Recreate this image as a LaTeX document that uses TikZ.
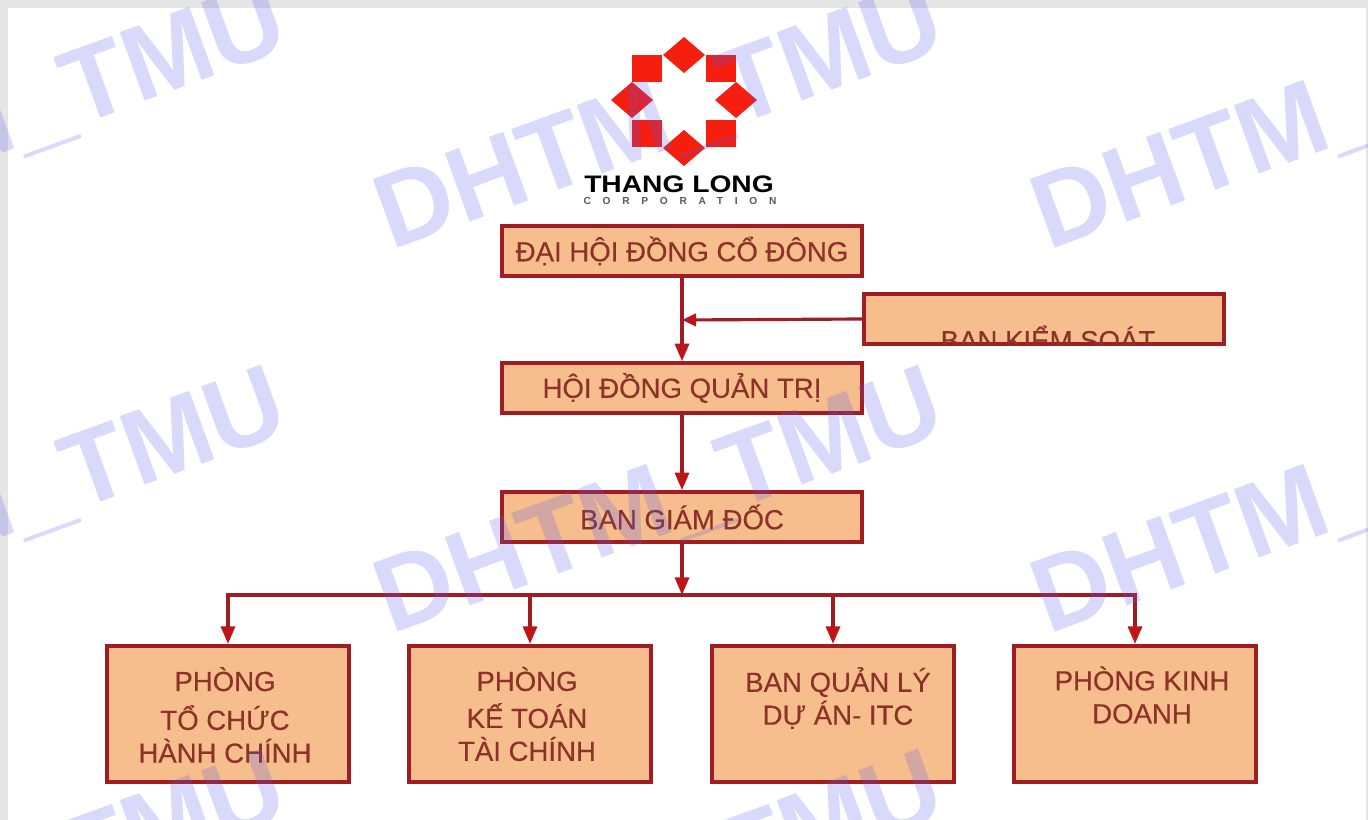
\documentclass[tikz,border=0pt]{standalone}
\usepackage{fontspec}
\setmainfont{Liberation Sans}
\newfontfamily\boxfont[FakeBold=0.35]{Liberation Sans}
\usetikzlibrary{arrows.meta}
\definecolor{boxfill}{RGB}{246,190,140}
\definecolor{boxline}{RGB}{160,30,35}
\definecolor{boxtext}{RGB}{140,50,40}
\definecolor{logored}{RGB}{245,30,15}
\definecolor{markcol}{RGB}{85,85,245}
\tikzset{
  wide/.style={draw=boxline,line width=2pt,fill=boxfill,text=boxtext,minimum width=205pt,minimum height=28.5pt,inner sep=0pt,font=\boxfont\fontsize{15.7}{18}\selectfont},
  room/.style={draw=boxline,line width=2.3pt,fill=boxfill,minimum width=137.5pt,minimum height=77.5pt,inner sep=0pt},
  roomtext/.style={text=boxtext,align=center,inner sep=0pt,font=\boxfont\fontsize{15.7}{18.7}\selectfont},
  link/.style={draw=boxline,line width=1.8pt},
  tiplink/.style={link,-{Triangle[length=10pt,width=8pt,color=boxline!70!red]}},
  shorttip/.style={link,-{Triangle[length=8pt,width=7pt,color=boxline!70!red]}},
  watermark/.style={text=markcol,opacity=.22,rotate=20,anchor=base west,inner sep=0pt,font=\fontsize{60.3}{61}\bfseries\selectfont}
}
\begin{document}
\begin{tikzpicture}[x=0.02cm,y=-0.02cm]
\useasboundingbox (0,0) rectangle (1368,820);

% Nen
\fill[gray!20] (0,0) rectangle (1368,820);
\fill[white] (8,8) rectangle (1366,820);

% Logo
\foreach \x/\y in {684/55,736/100,684/148,632/100}
  \fill[logored] (\x-21,\y) -- (\x,\y-18) -- (\x+21,\y) -- (\x,\y+18) -- cycle;
\foreach \x/\y in {632/55,706/55,632/120,706/120}
  \fill[logored] (\x,\y) rectangle (\x+30,\y+27);
\node[inner sep=0pt,xscale=1.18,font=\fontsize{13.6}{14}\bfseries\selectfont] (thanglong) at (679,184) {THANG LONG};
\node[inner sep=0pt,text=black!65,font=\fontsize{5.8}{6}\bfseries\selectfont\addfontfeature{LetterSpace=115}] (corporation) at (680,201) {CORPORATION};

% Hop tren
\node[wide] (dhdcd) at (682,251) {ĐẠI HỘI ĐỒNG CỔ ĐÔNG};
\node[wide] (bks) at (1044,319) {};
\node[wide] (hdqt) at (682,388) {HỘI ĐỒNG QUẢN TRỊ};
\node[wide] (bgd) at (682,517) {BAN GIÁM ĐỐC};

% Chu bi cat
\begin{scope}
\clip (bks.south west) rectangle (bks.north east);
\node[text=boxtext,inner sep=0pt,font=\boxfont\fontsize{15.7}{18}\selectfont] (bkstext) at (1048,338) {BAN KIỂM SOÁT};
\end{scope}

% Phong ban
\node[room] (tchc) at (228,714) {};
\node[room] (ktkc) at (530,714) {};
\node[room] (qlda) at (833,714) {};
\node[room] (kd) at (1135,714) {};
\node[roomtext] (tchctext) at (225,715) {PHÒNG\\[3.4pt]TỔ CHỨC\\HÀNH CHÍNH};
\node[roomtext] (ktkctext) at (527,714) {PHÒNG\\[2.4pt]KẾ TOÁN\\TÀI CHÍNH};
\node[roomtext] (qldatext) at (838,698) {BAN QUẢN LÝ\\DỰ ÁN- ITC};
\node[roomtext] (kdtext) at (1142,695) {PHÒNG KINH\\DOANH};

% Duong noi
\coordinate (mid) at (682,320);
\coordinate (bus) at (682,595);
\draw[tiplink] (dhdcd) -- (hdqt);
\draw[shorttip] (bks.west) -- (mid);
\draw[tiplink] (hdqt) -- (bgd);
\draw[tiplink] (bgd) -- (bus);
\foreach \room in {tchc,ktkc,qlda,kd}
  \draw[tiplink] (bus) -| (\room.north);

% Chu chim
\begin{scope}
\clip (0,0) rectangle (1368,820);
\foreach \x in {-266,391,1048}
  \foreach \y in {251,635,1019}
    \node[watermark] at (\x,\y) {DHTM\_TMU};
\end{scope}

\end{tikzpicture}
\end{document}
